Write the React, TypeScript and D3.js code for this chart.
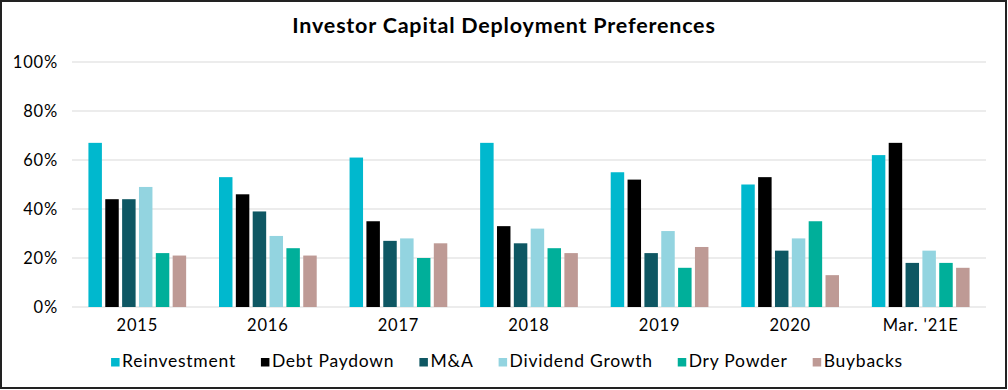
import React, { useRef, useEffect } from 'react';
import * as d3 from 'd3';

const categories = ['2015', '2016', '2017', '2018', '2019', '2020', "Mar. '21E"];
const seriesNames = ['Reinvestment', 'Debt Paydown', 'M&A', 'Dividend Growth', 'Dry Powder', 'Buybacks'];
const reinvestment = [67, 53, 61, 67, 55, 50, 62];
const debtPaydown = [44, 46, 35, 33, 52, 53, 67];
const mAndA = [44, 39, 27, 26, 22, 23, 18];
const dividendGrowth = [49, 29, 28, 32, 31, 28, 23];
const dryPowder = [22, 24, 20, 24, 16, 35, 18];
const buybacks = [21, 21, 26, 22, 24.5, 13, 16];
const yTicks = [0, 20, 40, 60, 80, 100];
const colors = ['#00B8CE', '#000000', '#0E5763', '#93D4E0', '#00AF9A', '#BE9A95'];

const W = 1008;
const H = 390;
const FONT = 'Lato, "Open Sans", sans-serif';

const App = () => {
  const svgRef = useRef<SVGSVGElement>(null);

  useEffect(() => {
    const series = [reinvestment, debtPaydown, mAndA, dividendGrowth, dryPowder, buybacks];
    const svg = d3.select(svgRef.current);
    svg.selectAll('*').remove();

    const margin = { top: 62, right: 22, bottom: 83, left: 72 };
    const width = W - margin.left - margin.right;
    const height = H - margin.top - margin.bottom;

    svg.append('rect')
      .attr('x', 1).attr('y', 1)
      .attr('width', W - 3).attr('height', H - 3)
      .attr('fill', '#fff')
      .attr('stroke', '#222')
      .attr('stroke-width', 2);

    svg.append('text')
      .attr('x', 504)
      .attr('y', 33)
      .attr('text-anchor', 'middle')
      .attr('font-family', FONT)
      .attr('font-weight', 'bold')
      .attr('font-size', 21.5)
      .attr('letter-spacing', 0.8)
      .attr('fill', '#000')
      .text('Investor Capital Deployment Preferences');

    const x0 = d3.scaleBand().domain(categories).range([0, width]).paddingInner(0.2).paddingOuter(0.1);
    const x1 = d3.scaleBand().domain(seriesNames).range([0, x0.bandwidth()]).padding(0.2);
    const y = d3.scaleLinear().domain([0, 100]).range([height, 0]);

    const g = svg.append('g').attr('transform', `translate(${margin.left},${margin.top})`);

    g.selectAll('.grid')
      .data(yTicks)
      .enter().append('line')
      .attr('x1', 0).attr('x2', width)
      .attr('y1', d => y(d)).attr('y2', d => y(d))
      .attr('stroke', '#d9d9d9')
      .attr('stroke-width', 1.2);

    g.selectAll('.ytick')
      .data(yTicks)
      .enter().append('text')
      .attr('x', -14)
      .attr('y', d => y(d))
      .attr('dy', '0.36em')
      .attr('text-anchor', 'end')
      .attr('font-family', FONT)
      .attr('font-size', 16.5)
      .attr('letter-spacing', 0.8)
      .attr('fill', '#000')
      .text(d => `${d}%`);

    categories.forEach((cat, ci) => {
      const cg = g.append('g').attr('transform', `translate(${x0(cat)},0)`);
      seriesNames.forEach((name, si) => {
        const v = series[si][ci];
        cg.append('rect')
          .attr('x', x1(name)!)
          .attr('y', y(v))
          .attr('width', x1.bandwidth())
          .attr('height', height - y(v))
          .attr('fill', colors[si]);
      });
    });

    g.selectAll('.xtick')
      .data(categories)
      .enter().append('text')
      .attr('x', d => x0(d)! + x0.bandwidth() / 2)
      .attr('y', height + 24)
      .attr('text-anchor', 'middle')
      .attr('font-family', FONT)
      .attr('font-size', 16.5)
      .attr('letter-spacing', 0.8)
      .attr('fill', '#000')
      .text(d => d);

    // legend, laid out after measuring text widths
    const legend = svg.append('g');
    let cx = 0;
    seriesNames.forEach((name, i) => {
      const item = legend.append('g').attr('transform', `translate(${cx},0)`);
      item.append('rect')
        .attr('x', 0).attr('y', -8.5)
        .attr('width', 8.5).attr('height', 8.5)
        .attr('fill', colors[i]);
      const t = item.append('text')
        .attr('x', 11)
        .attr('y', 0)
        .attr('font-family', FONT)
        .attr('font-size', 17.5)
        .attr('letter-spacing', 0.75)
        .attr('fill', '#000')
        .text(name);
      const tw = (t.node() as SVGTextElement).getComputedTextLength();
      cx += 11 + tw + 25;
    });
    const total = cx - 25;
    legend.attr('transform', `translate(${507 - total / 2},366.5)`);
  }, []);

  return (
    <svg
      ref={svgRef}
      width={W}
      height={H}
      style={{ position: 'absolute', left: 0, top: 0, display: 'block' }}
    />
  );
};

export default App;
